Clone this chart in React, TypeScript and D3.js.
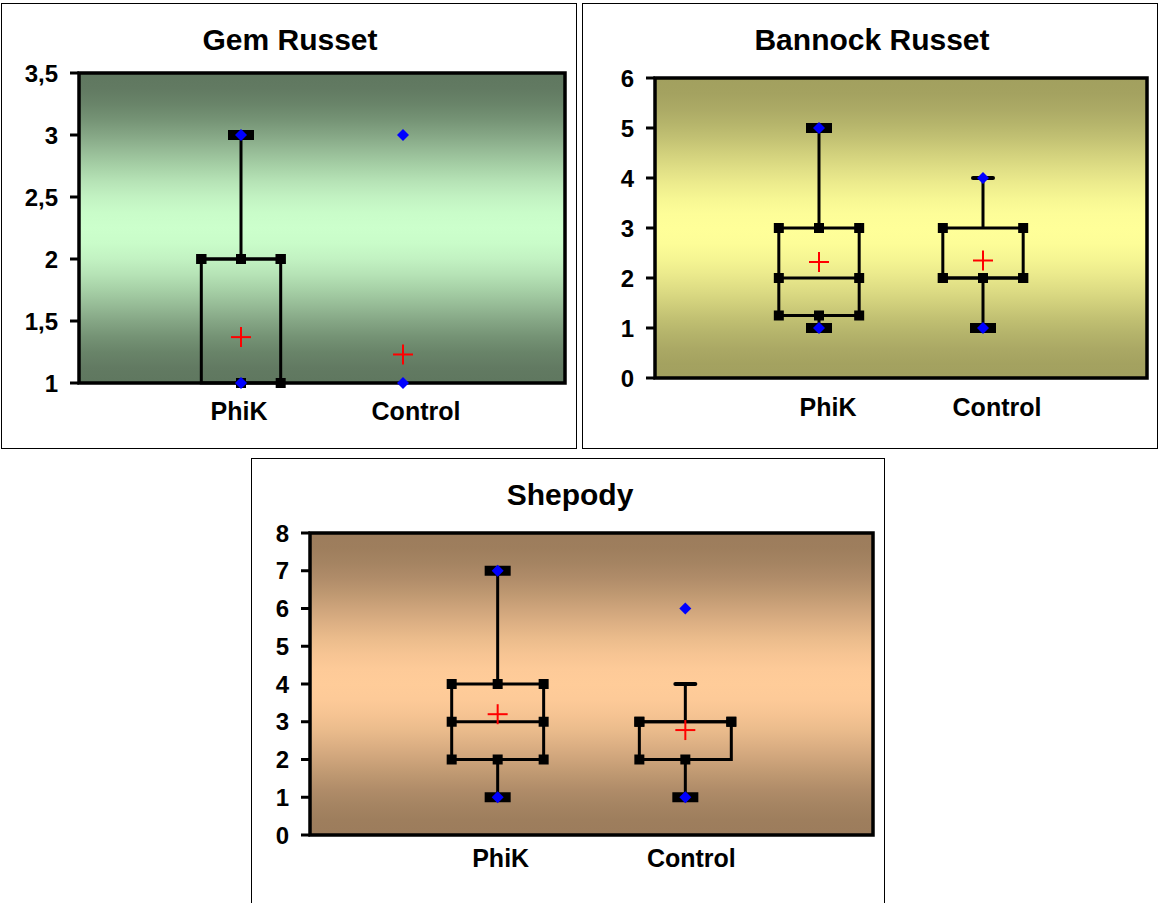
import * as d3 from "d3";

const categories = ["PhiK", "Control"];

// Gem Russet
const gemLow = [1, 1];
const gemQ1 = [1, 1];
const gemMedian = [2, 1];
const gemQ3 = [2, 1];
const gemHigh = [3, 1];
const gemMean = [1.37, 1.23];
const gemPoints = [[1, 3], [1, 3]];
const gemCapLow = ["none", "none"];
const gemCapHigh = ["thick", "none"];
const gemHidden = [["q1L"], ["all"]];
const gemTicks = [1, 1.5, 2, 2.5, 3, 3.5];

// Bannock Russet
const bannockLow = [1, 1];
const bannockQ1 = [1.25, 2];
const bannockMedian = [2, 2];
const bannockQ3 = [3, 3];
const bannockHigh = [5, 4];
const bannockMean = [2.32, 2.35];
const bannockPoints = [[1, 5], [1, 4]];
const bannockCapLow = ["thick", "thick"];
const bannockCapHigh = ["thick", "thin"];
const bannockHidden = [[], ["q3C"]];
const bannockTicks = [0, 1, 2, 3, 4, 5, 6];

// Shepody
const shepodyLow = [1, 1];
const shepodyQ1 = [2, 2];
const shepodyMedian = [3, 3];
const shepodyQ3 = [4, 3];
const shepodyHigh = [7, 4];
const shepodyMean = [3.2, 2.78];
const shepodyPoints = [[1, 7], [1, 6]];
const shepodyCapLow = ["thick", "thick"];
const shepodyCapHigh = ["thick", "thin"];
const shepodyHidden = [[], ["q1R", "q3C"]];
const shepodyTicks = [0, 1, 2, 3, 4, 5, 6, 7, 8];

const FONT = "'Liberation Sans', Arial, sans-serif";
const HALF = 0.245; // half box width in x units
const gradSteps = d3.range(0, 1.0001, 0.05);

function Panel(p: any) {
  const x = d3.scaleLinear().domain([0, 3]).range([p.plot.x0, p.plot.x1]);
  const y = d3.scaleLinear().domain(p.domain).range([p.plot.y1, p.plot.y0]);
  const fmt = (v: number) => d3.format("~g")(v).replace(".", ",");
  const gid = "grad-" + p.id;
  const mix = d3.interpolateRgb(p.dark, p.light);

  return (
    <g>
      <rect x={p.frame.x} y={p.frame.y} width={p.frame.w} height={p.frame.h} fill="#fff" stroke="#000" strokeWidth={1} />
      <defs>
        <linearGradient id={gid} x1="0" y1="0" x2="0" y2="1">
          {gradSteps.map((t) => (
            <stop key={t} offset={t} stopColor={mix(d3.easeSinInOut(1 - Math.abs(1 - 2 * t)))} />
          ))}
        </linearGradient>
      </defs>
      <text x={p.titleX} y={p.titleY} textAnchor="middle" fontFamily={FONT} fontWeight="bold" fontSize={30}>
        {p.title}
      </text>
      <rect x={p.plot.x0} y={p.plot.y0} width={p.plot.x1 - p.plot.x0} height={p.plot.y1 - p.plot.y0}
        fill={`url(#${gid})`} stroke="#000" strokeWidth={3.5} />
      {p.ticks.map((t: number) => (
        <g key={t}>
          <line x1={p.plot.x0 - 9} x2={p.plot.x0} y1={y(t)} y2={y(t)} stroke="#000" strokeWidth={3} />
          <text x={p.plot.x0 - 21} y={y(t) + 8.5} textAnchor="end" fontFamily={FONT} fontWeight="bold" fontSize={24}>
            {fmt(t)}
          </text>
        </g>
      ))}
      {categories.map((c, i) => (
        <text key={c} x={x(i + 1) + p.labelNudge[i]} y={p.plot.y1 + p.labelDy} textAnchor="middle"
          fontFamily={FONT} fontWeight="bold" fontSize={25}>
          {c}
        </text>
      ))}
      {categories.map((c, i) => {
        const cx = x(i + 1);
        const l = x(i + 1 - HALF);
        const r = x(i + 1 + HALF);
        const hidden: string[] = p.hidden[i];
        const all = hidden.includes("all");
        const sq = (key: string, mx: number, my: number) =>
          all || hidden.includes(key) ? null : (
            <rect key={key} x={mx - 5} y={my - 5} width={10} height={10} fill="#000" />
          );
        const cap = (style: string, v: number, key: string) =>
          style === "thick" ? (
            <rect key={key} x={cx - 13} y={y(v) - 5} width={26} height={10} fill="#000" />
          ) : style === "thin" ? (
            <line key={key} x1={cx - 10} x2={cx + 10} y1={y(v)} y2={y(v)} stroke="#000" strokeWidth={4} strokeLinecap="round" />
          ) : null;
        return (
          <g key={c}>
            {!all && (
              <g stroke="#000" strokeWidth={3} fill="none">
                <rect x={l} y={y(p.q3[i])} width={r - l} height={y(p.q1[i]) - y(p.q3[i])} />
                <line x1={l} x2={r} y1={y(p.median[i])} y2={y(p.median[i])} />
                <line x1={cx} x2={cx} y1={y(p.q3[i])} y2={y(p.high[i])} />
                <line x1={cx} x2={cx} y1={y(p.q1[i])} y2={y(p.low[i])} />
              </g>
            )}
            {sq("q1L", l, y(p.q1[i]))}
            {sq("q1C", cx, y(p.q1[i]))}
            {sq("q1R", r, y(p.q1[i]))}
            {sq("medL", l, y(p.median[i]))}
            {sq("medR", r, y(p.median[i]))}
            {sq("q3L", l, y(p.q3[i]))}
            {sq("q3C", cx, y(p.q3[i]))}
            {sq("q3R", r, y(p.q3[i]))}
            {cap(p.capHigh[i], p.high[i], "ch")}
            {cap(p.capLow[i], p.low[i], "cl")}
            {p.points[i].map((v: number, k: number) => (
              <path key={"d" + k} d={`M${cx},${y(v) - 6}L${cx + 6},${y(v)}L${cx},${y(v) + 6}L${cx - 6},${y(v)}Z`} fill="#0000ff" />
            ))}
            <g stroke="#ff0000" strokeWidth={2}>
              <line x1={cx - 10} x2={cx + 10} y1={y(p.mean[i])} y2={y(p.mean[i])} />
              <line x1={cx} x2={cx} y1={y(p.mean[i]) - 10} y2={y(p.mean[i]) + 10} />
            </g>
          </g>
        );
      })}
    </g>
  );
}

export default function App() {
  return (
    <svg width={1160} height={903} style={{ position: "absolute", left: 0, top: 0, background: "#fff" }}>
      <Panel id="gem" title="Gem Russet" titleX={290} titleY={50}
        frame={{ x: 1.5, y: 3.5, w: 575, h: 445 }} plot={{ x0: 79, x1: 565, y0: 73, y1: 383 }}
        domain={[1, 3.5]} ticks={gemTicks} dark="#5f775f" light="#ccffcc"
        labelDy={37} labelNudge={[-2, 13]}
        low={gemLow} q1={gemQ1} median={gemMedian} q3={gemQ3} high={gemHigh} mean={gemMean}
        points={gemPoints} capLow={gemCapLow} capHigh={gemCapHigh} hidden={gemHidden} />
      <Panel id="bannock" title="Bannock Russet" titleX={872} titleY={50}
        frame={{ x: 582.5, y: 3.5, w: 575, h: 445 }} plot={{ x0: 655, x1: 1147, y0: 78, y1: 378 }}
        domain={[0, 6]} ticks={bannockTicks} dark="#a2a05f" light="#ffff99"
        labelDy={38} labelNudge={[9, 14]}
        low={bannockLow} q1={bannockQ1} median={bannockMedian} q3={bannockQ3} high={bannockHigh} mean={bannockMean}
        points={bannockPoints} capLow={bannockCapLow} capHigh={bannockCapHigh} hidden={bannockHidden} />
      <Panel id="shepody" title="Shepody" titleX={570} titleY={505}
        frame={{ x: 251.5, y: 458.5, w: 633, h: 470 }} plot={{ x0: 310, x1: 873, y0: 533, y1: 835 }}
        domain={[0, 8]} ticks={shepodyTicks} dark="#9c7c5c" light="#ffcc99"
        labelDy={32} labelNudge={[3, 6]}
        low={shepodyLow} q1={shepodyQ1} median={shepodyMedian} q3={shepodyQ3} high={shepodyHigh} mean={shepodyMean}
        points={shepodyPoints} capLow={shepodyCapLow} capHigh={shepodyCapHigh} hidden={shepodyHidden} />
    </svg>
  );
}
